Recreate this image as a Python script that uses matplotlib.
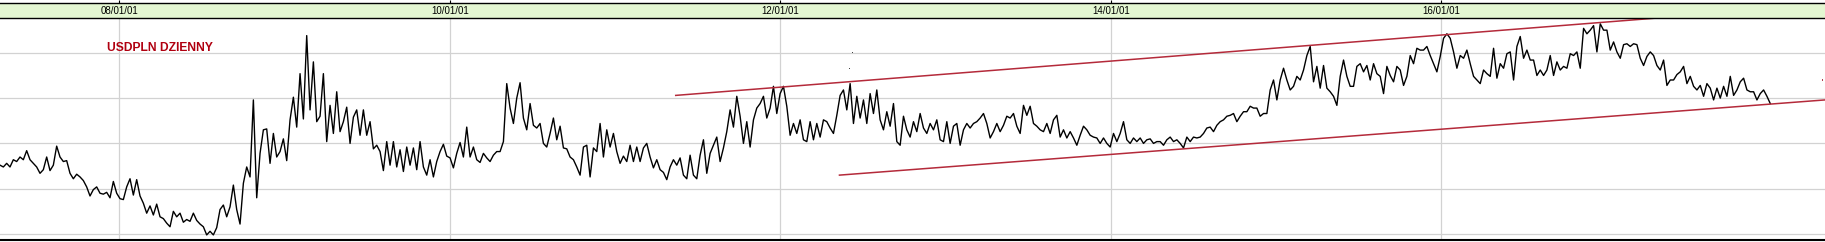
import pandas as pd
import matplotlib
matplotlib.use("Agg")
import matplotlib.pyplot as plt
import matplotlib.transforms as mtransforms

first_day = "2007-04-12"
last_day = "2017-12-29"
usdpln = [
    2.76, 2.74, 2.78, 2.74, 2.82, 2.80, 2.85, 2.82, 2.92, 2.82,
    2.78, 2.74, 2.67, 2.71, 2.85, 2.70, 2.76, 2.97, 2.85, 2.80,
    2.81, 2.67, 2.61, 2.66, 2.63, 2.59, 2.52, 2.42, 2.49, 2.52,
    2.45, 2.44, 2.46, 2.40, 2.58, 2.45, 2.39, 2.38, 2.52, 2.61,
    2.43, 2.60, 2.42, 2.34, 2.23, 2.31, 2.21, 2.33, 2.19, 2.17,
    2.12, 2.08, 2.25, 2.19, 2.23, 2.13, 2.16, 2.14, 2.23, 2.15,
    2.11, 2.08, 1.99, 2.03, 1.99, 2.07, 2.27, 2.32, 2.19, 2.30,
    2.54, 2.27, 2.11, 2.56, 2.74, 2.63, 3.48, 2.40, 2.89, 3.15,
    3.16, 2.78, 3.11, 2.85, 2.91, 3.05, 2.81, 3.26, 3.51, 3.18,
    3.77, 3.27, 4.19, 3.37, 3.90, 3.24, 3.30, 3.77, 3.02, 3.42,
    3.11, 3.57, 3.13, 3.24, 3.40, 3.00, 3.29, 3.37, 3.09, 3.37,
    3.09, 3.24, 2.94, 2.98, 2.91, 2.70, 3.02, 2.76, 3.02, 2.74,
    2.93, 2.69, 2.96, 2.76, 2.95, 2.71, 3.02, 2.74, 2.65, 2.82,
    2.63, 2.80, 2.91, 2.99, 2.86, 2.84, 2.73, 2.89, 3.01, 2.85,
    3.18, 2.85, 2.96, 2.82, 2.79, 2.89, 2.84, 2.80, 2.87, 2.91,
    2.91, 3.02, 3.66, 3.39, 3.22, 3.50, 3.67, 3.28, 3.15, 3.44,
    3.20, 3.17, 3.22, 3.00, 2.96, 3.11, 3.28, 3.04, 3.19, 2.95,
    2.94, 2.85, 2.82, 2.74, 2.65, 2.96, 2.98, 2.63, 2.95, 2.91,
    3.22, 2.85, 3.15, 2.96, 3.11, 2.91, 2.78, 2.86, 2.80, 2.98,
    2.80, 2.96, 2.80, 2.95, 3.00, 2.85, 2.73, 2.82, 2.71, 2.68,
    2.60, 2.74, 2.82, 2.76, 2.84, 2.65, 2.61, 2.87, 2.65, 2.61,
    2.87, 3.04, 2.67, 2.89, 2.98, 3.07, 2.80, 2.95, 3.13, 3.37,
    3.18, 3.52, 3.30, 3.00, 3.24, 2.96, 3.26, 3.39, 3.44, 3.52,
    3.28, 3.39, 3.63, 3.33, 3.55, 3.63, 3.41, 3.09, 3.22, 3.11,
    3.26, 3.04, 3.02, 3.24, 3.04, 3.22, 3.07, 3.26, 3.24, 3.17,
    3.11, 3.31, 3.53, 3.59, 3.37, 3.66, 3.22, 3.52, 3.28, 3.48,
    3.22, 3.55, 3.33, 3.59, 3.26, 3.15, 3.35, 3.19, 3.44, 3.02,
    2.98, 3.30, 3.15, 3.07, 3.24, 3.13, 3.33, 3.17, 3.11, 3.22,
    3.15, 3.26, 3.04, 3.02, 3.24, 3.00, 3.19, 3.22, 2.98, 3.15,
    3.22, 3.17, 3.22, 3.24, 3.28, 3.33, 3.22, 3.06, 3.13, 3.22,
    3.13, 3.20, 3.30, 3.28, 3.33, 3.19, 3.11, 3.42, 3.31, 3.41,
    3.22, 3.19, 3.15, 3.13, 3.22, 3.11, 3.26, 3.31, 3.07, 3.15,
    3.06, 3.13, 3.06, 2.98, 3.09, 3.19, 3.15, 3.09, 3.07, 3.06,
    3.00, 3.06, 3.00, 2.96, 3.11, 3.02, 3.11, 3.24, 3.04, 3.00,
    3.06, 3.02, 3.06, 3.00, 3.04, 3.05, 3.00, 3.02, 3.02, 2.98,
    3.04, 3.07, 3.02, 3.04, 3.00, 2.95, 3.07, 3.02, 3.07, 3.06,
    3.07, 3.11, 3.17, 3.18, 3.13, 3.20, 3.24, 3.26, 3.30, 3.31,
    3.33, 3.24, 3.30, 3.35, 3.35, 3.41, 3.39, 3.39, 3.30, 3.33,
    3.33, 3.59, 3.70, 3.48, 3.70, 3.83, 3.70, 3.59, 3.63, 3.74,
    3.70, 3.81, 3.97, 4.07, 3.68, 3.85, 3.61, 3.86, 3.61, 3.57,
    3.52, 3.42, 3.74, 3.92, 3.74, 3.63, 3.63, 3.85, 3.88, 3.79,
    3.86, 3.70, 3.88, 3.77, 3.74, 3.55, 3.85, 3.75, 3.68, 3.85,
    3.81, 3.64, 3.74, 3.97, 3.88, 4.05, 4.03, 4.03, 4.07, 3.97,
    3.88, 3.79, 3.96, 4.16, 4.21, 4.16, 4.01, 3.83, 3.97, 3.94,
    4.03, 3.88, 3.74, 3.70, 3.66, 3.81, 3.77, 3.74, 4.05, 3.72,
    3.88, 3.83, 3.99, 4.01, 3.70, 4.07, 4.18, 3.94, 4.03, 3.92,
    3.92, 3.75, 3.81, 3.75, 3.81, 3.97, 3.75, 3.90, 3.81, 3.85,
    3.83, 3.99, 3.97, 4.01, 3.83, 4.27, 4.21, 4.25, 4.30, 4.01,
    4.32, 4.25, 4.25, 4.03, 4.12, 4.01, 3.94, 4.09, 4.10, 4.07,
    4.10, 4.09, 3.94, 3.86, 3.96, 4.01, 3.97, 3.86, 3.81, 3.92,
    3.64, 3.70, 3.70, 3.76, 3.79, 3.85, 3.66, 3.74, 3.63, 3.59,
    3.64, 3.52, 3.66, 3.61, 3.48, 3.61, 3.50, 3.63, 3.52, 3.74,
    3.53, 3.59, 3.68, 3.72, 3.59, 3.57, 3.57, 3.48, 3.55, 3.59,
    3.52, 3.44,
]

# trend channel drawn on the chart
upper_trend_dates = ["2011-05-15", "2018-04-29"]
upper_trend_values = [3.53, 4.53]
lower_trend_dates = ["2012-05-11", "2018-04-29"]
lower_trend_values = [2.65, 3.48]

# tiny stray marks left on the chart
stray_dates = ["2012-06-02", "2012-06-08", "2018-04-24"]
stray_values = [3.83, 4.00, 3.70]

tick_dates = ["2008-01-01", "2010-01-01", "2012-01-01", "2014-01-01", "2016-01-01"]
tick_labels = ["08/01/01", "10/01/01", "12/01/01", "14/01/01", "16/01/01"]
level_ticks = [2.0, 2.5, 3.0, 3.5, 4.0]

title = "USDPLN DZIENNY"

x_start = pd.Timestamp("2007-04-12")
x_end = pd.Timestamp("2018-04-29")

# -------- figure --------
fig = plt.figure(figsize=(18.25, 2.42), dpi=100)
fig.patch.set_facecolor("white")

# main price panel
ax = fig.add_axes([0, 0.0083, 1, 0.9161])
dates = pd.date_range(first_day, last_day, periods=len(usdpln))

ax.set_xlim(x_start, x_end)
ax.set_ylim(1.934, 4.381)
ax.set_xticks(pd.to_datetime(tick_dates))
ax.set_yticks(level_ticks)
ax.tick_params(length=0, labelbottom=False, labelleft=False)
ax.grid(True, color="#d2d2d2", linewidth=0.9, zorder=0)
ax.set_axisbelow(True)
for side in ["left", "right", "top"]:
    ax.spines[side].set_visible(False)
ax.spines["bottom"].set_color("black")
ax.spines["bottom"].set_linewidth(1.5)

ax.plot(dates, usdpln, color="black", linewidth=1.0, zorder=3)
ax.plot(pd.to_datetime(upper_trend_dates), upper_trend_values,
        color="#b42a3a", linewidth=1.1, zorder=4)
ax.plot(pd.to_datetime(lower_trend_dates), lower_trend_values,
        color="#b42a3a", linewidth=1.1, zorder=4)
ax.scatter(pd.to_datetime(stray_dates), stray_values, s=0.6, marker="s",
           color=["#444444", "#444444", "#b04050"], linewidths=0, zorder=4)

ax.text(0.0586, 0.866, title, transform=ax.transAxes, color="#b00010",
        fontsize=8.7, fontweight="bold", family="Liberation Sans",
        va="center", ha="left")

# header band with dates
hx = fig.add_axes([0, 0.9244, 1, 0.0644])
hx.set_facecolor("#e4f7d2")
hx.set_xlim(x_start, x_end)
hx.set_ylim(0, 1)
hx.set_yticks([])
hx.set_xticks(pd.to_datetime(tick_dates))
hx.tick_params(axis="x", bottom=False, top=True, direction="out",
               length=2.2, width=0.8, labelbottom=False, labeltop=False)
for side in ["left", "right"]:
    hx.spines[side].set_visible(False)
hx.spines["top"].set_linewidth(1.0)
hx.spines["bottom"].set_linewidth(1.0)

trans = mtransforms.blended_transform_factory(hx.transData, hx.transAxes)
for d, lab in zip(pd.to_datetime(tick_dates), tick_labels):
    hx.text(d, 0.47, lab, transform=trans, ha="center", va="center",
            fontsize=7.0, family="Liberation Sans", color="black")

fig.savefig("out.png", dpi=100)
